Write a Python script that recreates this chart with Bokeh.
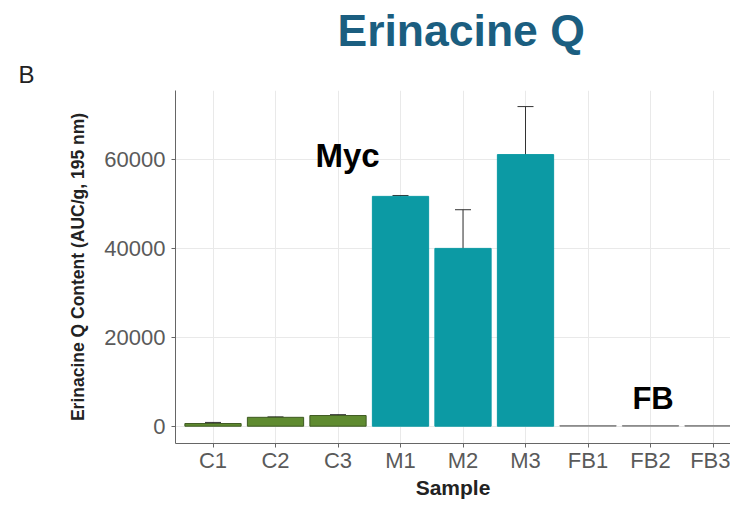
from bokeh.plotting import figure
from bokeh.models import ColumnDataSource, Range1d, FixedTicker, Label, Whisker, TeeHead, Title
from bokeh.embed import file_html
from bokeh.resources import INLINE

# ---- data ----
samples = ["C1", "C2", "C3", "M1", "M2", "M3", "FB1", "FB2", "FB3"]
groups = ["C", "C", "C", "M", "M", "M", "FB", "FB", "FB"]
content = [600, 2000, 2400, 51700, 40000, 61100, 150, 150, 150]
err_lo = [350, 1900, 2200, 51500, 31400, 50300, 150, 150, 150]
err_hi = [850, 2100, 2600, 51900, 48700, 71900, 150, 150, 150]
y_ticks = [0, 20000, 40000, 60000]

fill_by_group = {"C": "#5f8b30", "M": "#0c9aa4", "FB": "#8c8c8c"}
line_by_group = {"C": "#3e5a22", "M": "#0c9aa4", "FB": "#8c8c8c"}

xs = list(range(len(samples)))
src = ColumnDataSource(dict(
    x=xs, top=content,
    fill=[fill_by_group[g] for g in groups],
    line=[line_by_group[g] for g in groups],
))
has_err = [i for i, g in enumerate(groups) if g != "FB"]
esrc = ColumnDataSource(dict(
    x=[xs[i] for i in has_err],
    lo=[err_lo[i] for i in has_err],
    hi=[err_hi[i] for i in has_err],
))

p = figure(width=730, height=503, output_backend="svg", toolbar_location=None,
           x_range=Range1d(-0.6, 8.28), y_range=Range1d(-3890, 75520),
           min_border_left=175, min_border_right=0, min_border_top=90,
           min_border_bottom=60, title=None)
p.outline_line_color = None
p.background_fill_color = "white"
p.border_fill_color = "white"

p.vbar(x="x", top="top", width=0.9, bottom=0, fill_color="fill",
       line_color="line", line_width=1, source=src)

w = Whisker(base="x", lower="lo", upper="hi", source=esrc,
            line_color="#333333", line_width=1,
            upper_head=TeeHead(size=16, line_color="#333333", line_width=1),
            lower_head=TeeHead(size=16, line_color="#333333", line_width=1))
p.add_layout(w)

# axes
p.xaxis.ticker = FixedTicker(ticks=xs)
p.xaxis.major_label_overrides = {i: s for i, s in enumerate(samples)}
p.yaxis.ticker = FixedTicker(ticks=y_ticks)
p.yaxis.formatter.use_scientific = False
for ax in (p.xaxis, p.yaxis):
    ax.axis_line_color = "#666666"
    ax.major_tick_line_color = "#666666"
    ax.major_tick_out = 4
    ax.major_tick_in = 0
    ax.minor_tick_line_color = None
    ax.major_label_text_font = "Liberation Sans"
    ax.major_label_text_font_size = "22px"
    ax.major_label_text_color = "#5a5a5a"
    ax.axis_label_text_font = "Liberation Sans"
    ax.axis_label_text_font_style = "bold"
    ax.axis_label_text_color = "#222222"
p.yaxis.major_label_standoff = 6
p.xaxis.major_label_standoff = 0
p.xaxis.axis_label = "Sample"
p.xaxis.axis_label_text_font_size = "21px"
p.xaxis.axis_label_standoff = 0
p.yaxis.axis_label = "Erinacine Q Content (AUC/g, 195 nm)"
p.yaxis.axis_label_text_font_size = "17.5px"
p.yaxis.axis_label_standoff = 13
p.xgrid.grid_line_color = "#e9e9e9"
p.ygrid.grid_line_color = "#e9e9e9"

# titles (first added sits nearest the frame)
p.add_layout(Title(text="B", align="left", offset=-157, standoff=5,
                   text_font="Liberation Sans", text_font_style="normal",
                   text_font_size="24px", text_color="#222222"), "above")
p.add_layout(Title(text="Erinacine Q", align="left", offset=162, standoff=3,
                   text_font="Liberation Sans", text_font_style="bold",
                   text_font_size="44.5px", text_color="#1b5e80"), "above")

# in-plot group labels
p.add_layout(Label(x=1.64, y=60900, text="Myc", text_font="Liberation Sans",
                   text_font_style="bold", text_font_size="33px", text_color="#000000",
                   text_align="left", text_baseline="alphabetic"))
p.add_layout(Label(x=6.71, y=6230, text="FB", text_font="Liberation Sans",
                   text_font_style="bold", text_font_size="31px", text_color="#000000",
                   text_align="left", text_baseline="alphabetic"))

open("out.html", "w").write(file_html(p, INLINE))
